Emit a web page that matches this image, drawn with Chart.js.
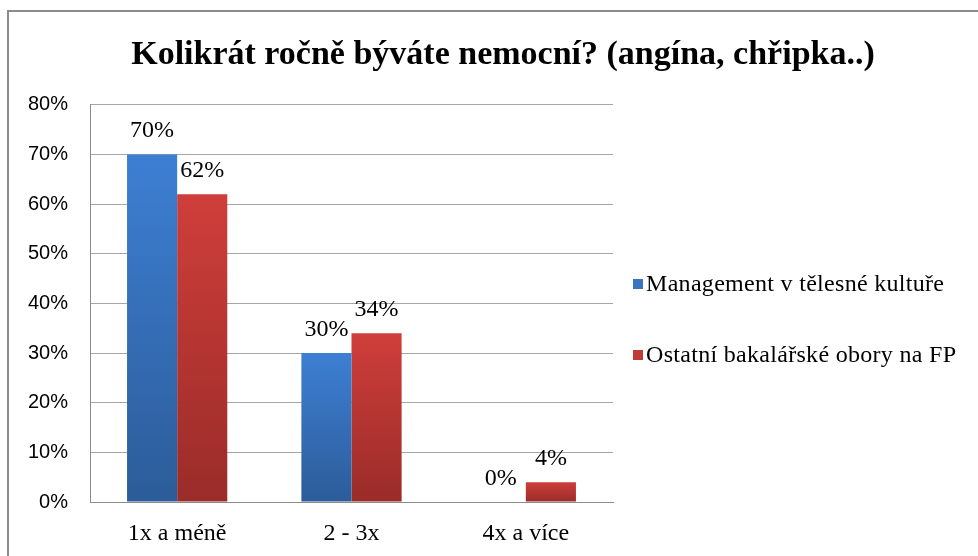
<!DOCTYPE html>
<html>
<head>
<meta charset="utf-8">
<script src="https://cdn.jsdelivr.net/npm/chart.js@4"></script>
<style>
  body { margin: 0; background: #fff; overflow: hidden; }
  #wrap { position: relative; width: 978px; height: 556px; }
  #frame { position: absolute; left: 7px; top: 10px; width: 990px; height: 560px;
           border-left: 2px solid #8c8c8c; border-top: 2px solid #8c8c8c; pointer-events: none; }
</style>
</head>
<body>
<div id="wrap">
  <canvas id="chart" width="978" height="556"></canvas>
  <div id="frame"></div>
</div>
<script>
// Data
const categories = ['1x a méně', '2 - 3x', '4x a více'];
const seriesNames = ['Management v tělesné kultuře', 'Ostatní bakalářské obory na FP'];
const managementValues = [70, 30, 0];
const otherValues = [62, 34, 4];
const yTicks = [0, 10, 20, 30, 40, 50, 60, 70, 80];

// gradient colours per series: [top, bottom, legend swatch]
const seriesColors = [
    ['#3d7fd3', '#2c5c99', '#3a74c0'],
    ['#cf3e3a', '#9a2c29', '#c03a36']
];

function barGradient(ctx, colors) {
    const chart = ctx.chart;
    const y = chart.scales.y;
    if (!y || ctx.raw === undefined) return colors[0];
    const top = y.getPixelForValue(ctx.raw);
    const bottom = y.getPixelForValue(0);
    if (!isFinite(top) || !isFinite(bottom) || bottom - top < 1) return colors[0];
    const g = chart.ctx.createLinearGradient(0, top, 0, bottom);
    g.addColorStop(0, colors[0]);
    g.addColorStop(1, colors[1]);
    return g;
}

// value labels above bars
const valueLabels = {
    id: 'valueLabels',
    afterDatasetsDraw(chart) {
        const ctx = chart.ctx;
        ctx.save();
        ctx.font = '24px "Liberation Serif", "Times New Roman", serif';
        ctx.fillStyle = '#000';
        ctx.textAlign = 'center';
        ctx.textBaseline = 'alphabetic';
        chart.data.datasets.forEach((ds, i) => {
            chart.getDatasetMeta(i).data.forEach((bar, j) => {
                ctx.fillText(ds.data[j] + '%', bar.x, bar.y - 17);
            });
        });
        ctx.restore();
    }
};

// legend on the right side
const sideLegend = {
    id: 'sideLegend',
    afterDraw(chart) {
        const ctx = chart.ctx;
        ctx.save();
        ctx.font = '24px "Liberation Serif", "Times New Roman", serif';
        ctx.letterSpacing = '0.3px';
        ctx.textBaseline = 'middle';
        ctx.textAlign = 'left';
        chart.data.datasets.forEach((ds, i) => {
            const cy = 284 + i * 71;
            ctx.fillStyle = seriesColors[i][2];
            ctx.fillRect(633, cy - 5, 10, 10);
            ctx.fillStyle = '#000';
            ctx.fillText(ds.label, 646, cy + 1);
        });
        ctx.restore();
    }
};

const ctx = document.getElementById('chart').getContext('2d');
const chart = new Chart(ctx, {
    type: 'bar',
    data: {
        labels: categories,
        datasets: [
            {
                label: seriesNames[0],
                data: managementValues,
                backgroundColor: c => barGradient(c, seriesColors[0])
            },
            {
                label: seriesNames[1],
                data: otherValues,
                backgroundColor: c => barGradient(c, seriesColors[1])
            }
        ]
    },
    options: {
        responsive: false,
        devicePixelRatio: 1,
        animation: false,
        categoryPercentage: 0.575,
        barPercentage: 1,
        layout: {
            padding: { left: 28, right: 0, top: 0, bottom: 0 }
        },
        plugins: {
            legend: { display: false },
            tooltip: { enabled: false },
            title: {
                display: true,
                text: 'Kolikrát ročně býváte nemocní? (angína, chřipka..)',
                color: '#000',
                font: { family: '"Liberation Serif", "Times New Roman", serif', size: 34, weight: 'bold', lineHeight: 1.2 },
                padding: { top: 35, bottom: 29 }
            }
        },
        scales: {
            x: {
                grid: { display: false, drawTicks: false },
                border: { color: '#8c8c8c' },
                afterFit: axis => { axis.height = 54; },
                ticks: {
                    color: '#000',
                    padding: 17,
                    font: { family: '"Liberation Serif", "Times New Roman", serif', size: 24 }
                }
            },
            y: {
                min: 0,
                max: 80,
                afterBuildTicks: axis => { axis.ticks = yTicks.map(v => ({ value: v })); },
                afterFit: axis => { axis.width = 62; },
                grid: { color: '#a6a6a6', drawTicks: false },
                border: { color: '#8c8c8c' },
                ticks: {
                    color: '#000',
                    padding: 22,
                    font: { family: '"Liberation Sans", Arial, sans-serif', size: 20 },
                    callback: v => v + '%'
                }
            },
            // empty right-hand axis that keeps room for the legend
            legendSpace: {
                position: 'right',
                display: true,
                afterFit: axis => { axis.width = 365; },
                grid: { display: false, drawTicks: false },
                border: { display: false },
                ticks: { display: false }
            }
        }
    },
    plugins: [valueLabels, sideLegend]
});
</script>
</body>
</html>
